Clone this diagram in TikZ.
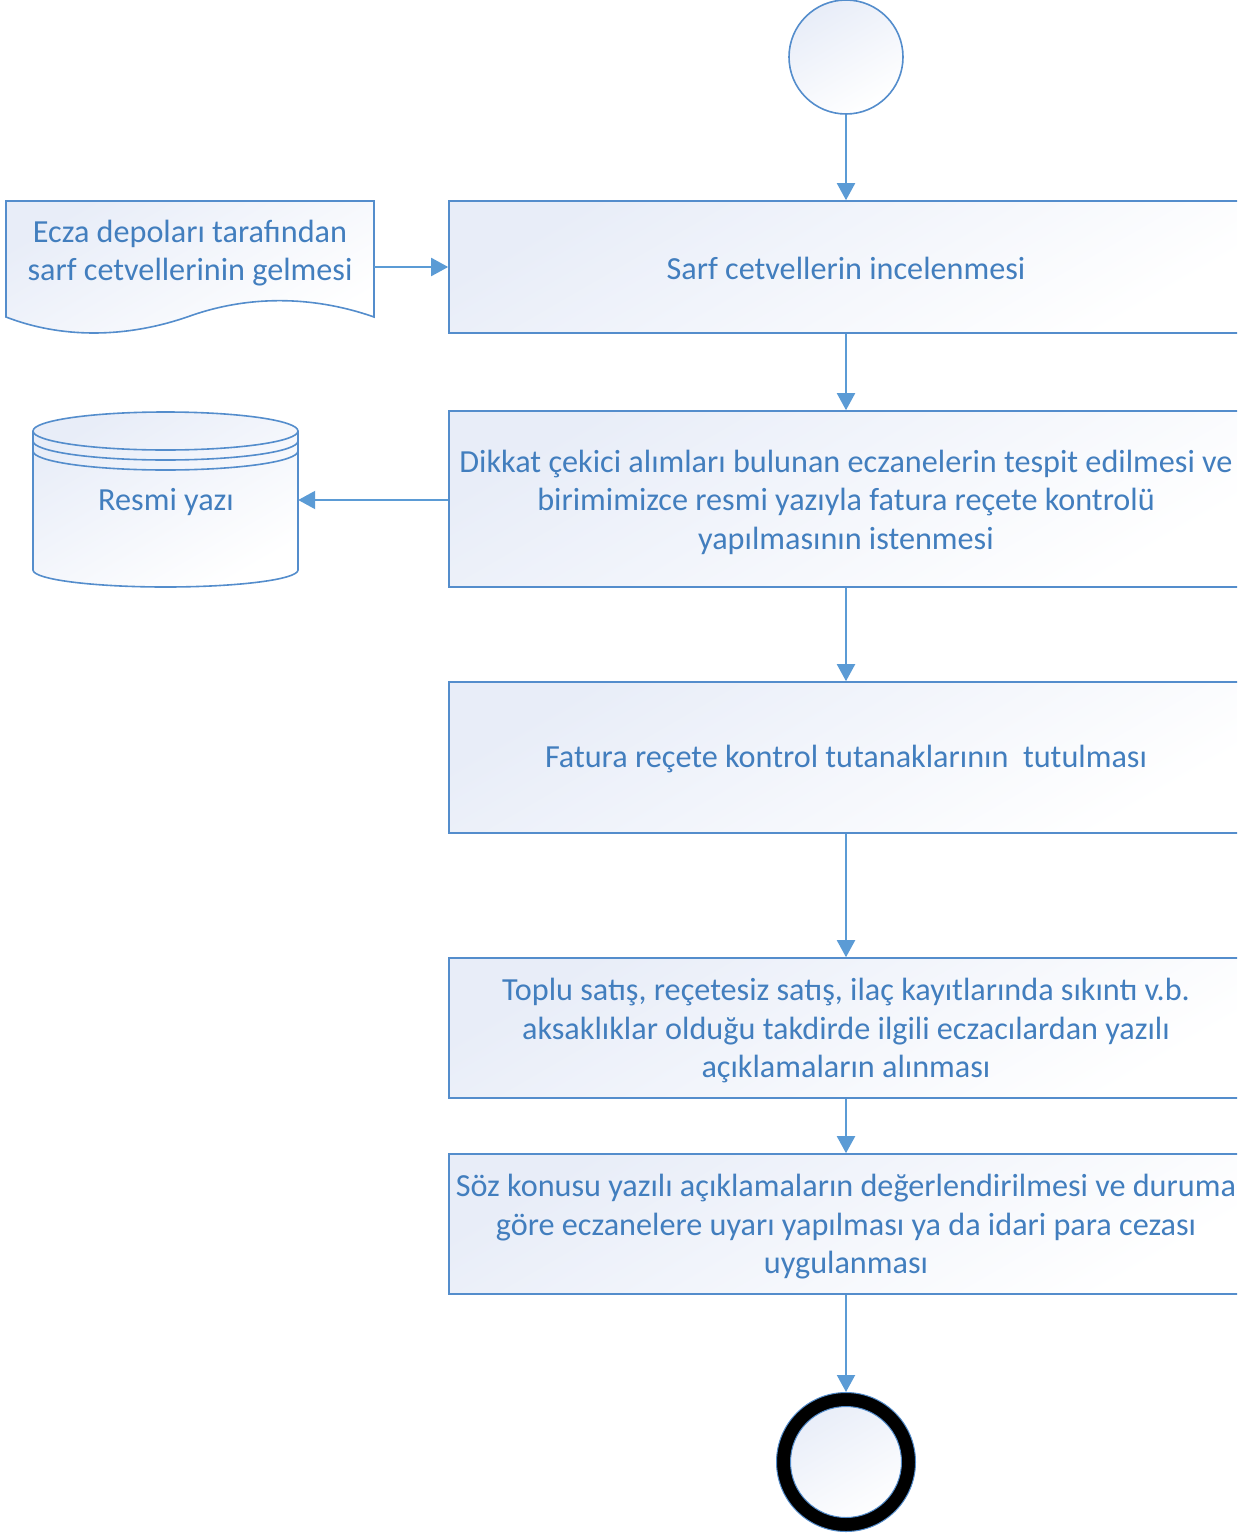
\documentclass[tikz,border=0pt]{standalone}
\usepackage{fontspec}
\setmainfont{Carlito}
\usetikzlibrary{arrows.meta}
\definecolor{txtblue}{RGB}{66,126,190}
\definecolor{lineblue}{RGB}{84,141,204}
\definecolor{arrblue}{RGB}{91,155,213}
\definecolor{fillblue}{RGB}{232,237,248}
\tikzset{
  shapefill/.style={top color=fillblue, bottom color=white, shading angle=30},
  procbox/.style={draw=lineblue, line width=1.6pt, shapefill, rectangle, minimum width=794pt, align=center, text=txtblue, font=\fontsize{32.2}{38.5}\selectfont, inner sep=0pt},
  lbl/.style={align=center, text=txtblue, font=\fontsize{32.2}{38.5}\selectfont, inner sep=0pt},
  conn/.style={draw=arrblue, line width=2pt, -{Triangle[length=17pt,width=18pt]}},
}
\begin{document}
\begin{tikzpicture}[x=1pt,y=-1pt]
\useasboundingbox (0,0) rectangle (1237,1536);
\clip (0,0) rectangle (1237,1536);
% start
\node[circle, draw=lineblue, line width=1.6pt, shapefill, minimum size=114pt, inner sep=0pt] (start) at (846,57) {};
% boxes
\node[procbox, minimum height=132pt] (b1) at (846,267) {};
\node[lbl] at (846,268) {Sarf cetvellerin incelenmesi};
\node[procbox, minimum height=176pt] (b2) at (846,499) {};
\node[lbl] at (846,502) {Dikkat çekici alımları bulunan eczanelerin tespit edilmesi ve\\birimimizce resmi yazıyla fatura reçete kontrolü\\yapılmasının istenmesi};
\node[procbox, minimum height=151pt] (b3) at (846,757.5) {};
\node[lbl] at (846,759) {Fatura reçete kontrol tutanaklarının\ \ tutulması};
\node[procbox, minimum height=140pt] (b4) at (846,1028) {};
\node[lbl] at (846,1031) {Toplu satış, reçetesiz satış, ilaç kayıtlarında sıkıntı v.b.\\aksaklıklar olduğu takdirde ilgili eczacılardan yazılı\\açıklamaların alınması};
\node[procbox, minimum height=140pt] (b5) at (846,1224) {};
\node[lbl] at (846,1227) {Söz konusu yazılı açıklamaların değerlendirilmesi ve duruma\\göre eczanelere uyarı yapılması ya da idari para cezası\\uygulanması};
% end
\node[circle, draw=black, line width=14pt, shapefill, minimum size=125pt, inner sep=0pt] (endc) at (846,1462) {};
\draw[lineblue, line width=1pt] (endc.center) circle (69.5pt) circle (55.5pt);
% document shape
\draw[draw=lineblue, line width=1.6pt, shapefill] (6,201) -- (374,201) -- (374,317)
  .. controls (320,298) and (255,293) .. (190,316)
  .. controls (125,339) and (60,338) .. (6,317) -- cycle;
\node[lbl] (doc) at (190,253) {Ecza depoları tarafından\\sarf cetvellerinin gelmesi};
\coordinate (docR) at (374,267);
% cylinder
\draw[draw=lineblue, line width=1.6pt, shapefill] (33,431) -- (33,570) arc[start angle=180, end angle=360, x radius=132.5pt, y radius=17pt] -- (298,431) arc[start angle=0, end angle=180, x radius=132.5pt, y radius=19pt] -- cycle;
\draw[lineblue, line width=1.6pt] (33,431) arc[start angle=180, end angle=360, x radius=132.5pt, y radius=19pt];
\draw[lineblue, line width=1.6pt] (33,441) arc[start angle=180, end angle=360, x radius=132.5pt, y radius=19pt];
\draw[lineblue, line width=1.6pt] (33,451) arc[start angle=180, end angle=360, x radius=132.5pt, y radius=19pt];
\draw[lineblue, line width=1.6pt] (33,431) -- (33,451) (298,431) -- (298,451);
\node[inner sep=0pt, minimum width=265pt, minimum height=175pt] (db) at (165.5,500) {};
\node[lbl] at (166,502) {Resmi yazı};
% connectors
\draw[conn] (start) -- (b1);
\draw[conn] (docR) -- (b1.west |- docR);
\draw[conn] (b1) -- (b2);
\draw[conn] (b2.west |- db.east) -- (db.east);
\draw[conn] (b2) -- (b3);
\draw[conn] (b3) -- (b4);
\draw[conn] (b4) -- (b5);
\draw[conn] (b5.south) -- (846,1392);
\end{tikzpicture}
\end{document}
